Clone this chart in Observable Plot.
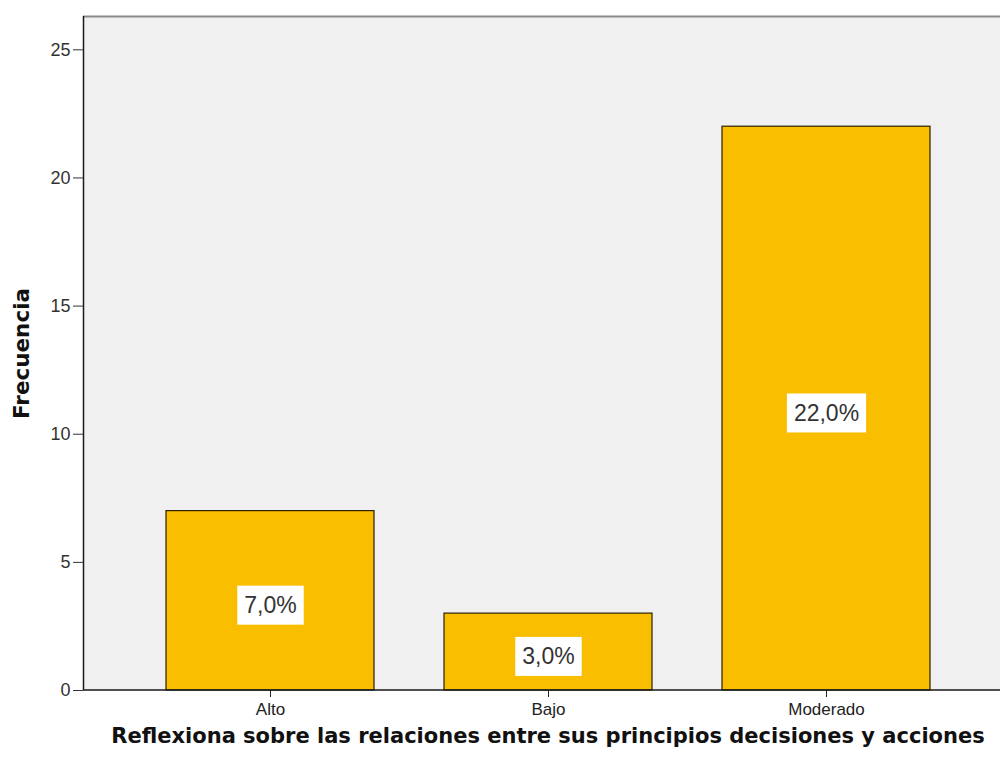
<!DOCTYPE html>
<html><head><meta charset="utf-8">
<script src="https://cdn.jsdelivr.net/npm/d3@7"></script>
<script src="https://cdn.jsdelivr.net/npm/@observablehq/plot@0.6"></script>
<style>
html,body{margin:0;padding:0;background:#fff;overflow:hidden;}
</style></head><body><div id="chart"></div>
<script>
const categories = ["Alto", "Bajo", "Moderado"];
const frequencies = [7, 3, 22];
const percentLabels = ["7,0%", "3,0%", "22,0%"];
const yTicks = [0, 5, 10, 15, 20, 25];
const xTitle = "Reflexiona sobre las relaciones entre sus principios decisiones y acciones";
const yTitle = "Frecuencia";

const data = categories.map((c, i) => ({cat: c, value: frequencies[i], label: percentLabels[i]}));

const border = (index, scales, values, dims) => {
  const g = d3.create("svg:g").attr("aria-label", "border");
  const l = dims.marginLeft, t = dims.marginTop;
  const r = dims.width - dims.marginRight, b = dims.height - dims.marginBottom;
  g.append("line").attr("x1", l).attr("x2", r).attr("y1", t + 0.5).attr("y2", t + 0.5)
    .attr("stroke", "#8a8a8a").attr("stroke-width", 2);
  g.append("line").attr("x1", l + 0.5).attr("x2", l + 0.5).attr("y1", t).attr("y2", b)
    .attr("stroke", "#1a1a1a").attr("stroke-width", 1.5);
  g.append("line").attr("x1", l).attr("x2", r).attr("y1", b).attr("y2", b)
    .attr("stroke", "#1a1a1a").attr("stroke-width", 1.5);
  return g.node();
};

const chart = Plot.plot({
  width: 1000, height: 764,
  marginLeft: 83, marginRight: -12, marginTop: 16, marginBottom: 74,
  style: {fontFamily: "'Liberation Sans', Arial, sans-serif", background: "#fff", overflow: "hidden"},
  x: {domain: categories, paddingInner: 0.253, paddingOuter: 0.294, label: null},
  y: {domain: [0, 26.3], label: null},
  marks: [
    Plot.frame({fill: "#f0f0f0"}),
    Plot.barY(data, {x: "cat", y: "value", fill: "#f9be00", stroke: "#2b2100", strokeWidth: 1.2}),
    border,
    Plot.axisX({tickSize: 7, tickPadding: 5, fontSize: 17, color: "#222", label: null}),
    Plot.axisY({ticks: yTicks, tickSize: 10, tickPadding: 3, fontSize: 18, color: "#333", label: null}),
    Plot.text(data, {x: "cat", y: d => d.value / 2, text: "label", dy: 5, fontSize: 23, fill: "#333"}),
    Plot.text([xTitle], {frameAnchor: "bottom", dy: 46, lineAnchor: "middle", textAnchor: "middle", fontSize: 21, fontWeight: "bold", fontFamily: "DejaVu Sans", fill: "#111"}),
    Plot.text([yTitle], {frameAnchor: "left", dx: -61, rotate: -90, lineAnchor: "middle", textAnchor: "middle", fontSize: 21.5, fontWeight: "bold", fontFamily: "DejaVu Sans", fill: "#111"})
  ]
});
document.getElementById("chart").appendChild(chart);

// white boxes behind the percentage labels, sized from the rendered text
d3.select(chart).selectAll("text").filter(function() {
  return percentLabels.includes(this.textContent);
}).each(function() {
  const bb = this.getBBox();
  const padX = 7, padY = 6.5;
  const tr = this.getAttribute("transform");
  const rect = document.createElementNS("http://www.w3.org/2000/svg", "rect");
  rect.setAttribute("x", bb.x - padX);
  rect.setAttribute("y", bb.y - padY);
  rect.setAttribute("width", bb.width + 2 * padX);
  rect.setAttribute("height", bb.height + 2 * padY);
  rect.setAttribute("fill", "#ffffff");
  if (tr) rect.setAttribute("transform", tr);
  this.parentNode.insertBefore(rect, this);
});
</script>
</body></html>
